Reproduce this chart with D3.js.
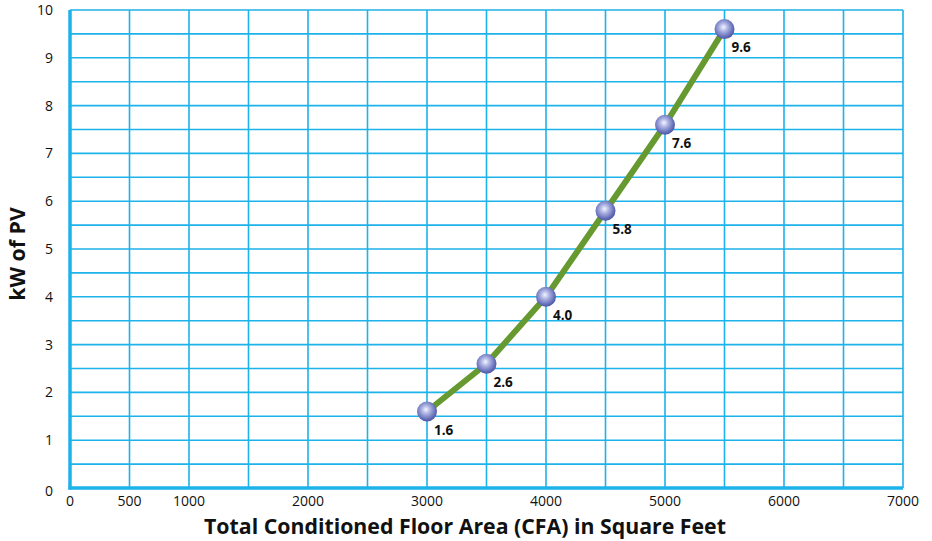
<!DOCTYPE html>
<html><head><meta charset="utf-8">
<script src="https://cdn.jsdelivr.net/npm/d3@7"></script>
<style>body{margin:0;background:#fff}svg{display:block}</style>
</head><body>
<svg id="c" width="932" height="541"></svg>
<script>
const cfa = [3000, 3500, 4000, 4500, 5000, 5500];
const kw = [1.6, 2.6, 4.0, 5.8, 7.6, 9.6];
const kwLabels = ["1.6", "2.6", "4.0", "5.8", "7.6", "9.6"];
const xTicks = [0, 500, 1000, 2000, 3000, 4000, 5000, 6000, 7000];
const yTicks = [0,1,2,3,4,5,6,7,8,9,10];
const xTitle = "Total Conditioned Floor Area (CFA) in Square Feet";
const yTitle = "kW of PV";

const svg = d3.select("#c");
const L = 70, R = 903, T = 10, B = 488;
const x = d3.scaleLinear().domain([0, 7000]).range([L, R]);
const y = d3.scaleLinear().domain([0, 10]).range([B, T]);
const gridC = "#1cb2ea";
const font = "'Open Sans', 'Noto Sans', sans-serif";

const defs = svg.append("defs");
const rg = defs.append("radialGradient").attr("id","ball").attr("cx","45%").attr("cy","42%").attr("r","60%").attr("fx","45%").attr("fy","40%");
rg.append("stop").attr("offset","0%").attr("stop-color","#f4f5ff");
rg.append("stop").attr("offset","35%").attr("stop-color","#adb3e2");
rg.append("stop").attr("offset","80%").attr("stop-color","#626cb8");
rg.append("stop").attr("offset","100%").attr("stop-color","#4a539f");

// grid
const g = svg.append("g");
g.selectAll(".vg").data(d3.range(500, 7001, 500)).join("line")
  .attr("x1", d => x(d)).attr("x2", d => x(d)).attr("y1", T).attr("y2", B)
  .attr("stroke", gridC).attr("stroke-width", 1.6);
g.selectAll(".hg").data(d3.range(0.5, 10.01, 0.5)).join("line")
  .attr("x1", L).attr("x2", R).attr("y1", d => y(d)).attr("y2", d => y(d))
  .attr("stroke", gridC).attr("stroke-width", 1.6);
// axes
g.append("line").attr("x1", L).attr("x2", L).attr("y1", T).attr("y2", B+1.5).attr("stroke", gridC).attr("stroke-width", 3.5);
g.append("line").attr("x1", L-1.5).attr("x2", R).attr("y1", B).attr("y2", B).attr("stroke", gridC).attr("stroke-width", 3.5);

// tick labels
svg.append("g").selectAll("text").data(yTicks).join("text")
  .attr("x", 53).attr("y", d => y(d) + 5 + (d===0?3:0))
  .attr("text-anchor","end").attr("font-family", font).attr("font-size", 14).attr("fill","#111")
  .text(d => d);
svg.append("g").selectAll("text").data(xTicks).join("text")
  .attr("x", d => x(d)).attr("y", 506)
  .attr("text-anchor","middle").attr("font-family", font).attr("font-size", 14).attr("fill","#111")
  .text(d => d);

// titles
svg.append("text").attr("x", 465).attr("y", 534).attr("text-anchor","middle")
  .attr("font-family", font).attr("font-weight","bold").attr("font-size", 21.3).attr("fill","#111").text(xTitle);
svg.append("text").attr("transform","translate(25,254) rotate(-90)").attr("text-anchor","middle")
  .attr("font-family", font).attr("font-weight","bold").attr("font-size", 21.3).attr("fill","#111").text(yTitle);

// line
const data = cfa.map((c,i) => ({c, k: kw[i], l: kwLabels[i]}));
svg.append("path").datum(data)
  .attr("d", d3.line().x(d => x(d.c)).y(d => y(d.k)))
  .attr("fill","none").attr("stroke","#66992f").attr("stroke-width",6).attr("stroke-linejoin","round");
svg.append("g").selectAll("circle").data(data).join("circle")
  .attr("cx", d => x(d.c)).attr("cy", d => y(d.k)).attr("r", 10)
  .attr("fill","url(#ball)");
svg.append("g").selectAll("text").data(data).join("text")
  .attr("x", d => x(d.c) + 7).attr("y", d => y(d.k) + 23)
  .attr("font-family", font).attr("font-weight","bold").attr("font-size", 13.5).attr("fill","#111")
  .text(d => d.l);
</script>
</body></html>
